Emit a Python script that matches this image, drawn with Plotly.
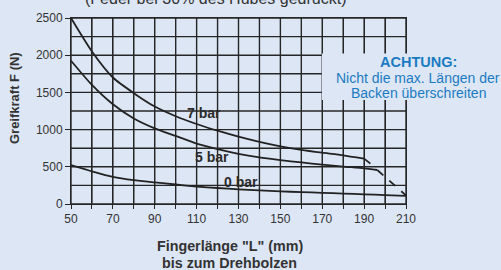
import plotly.graph_objects as go

# ---- data ----
x_vals = [50, 60, 70, 80, 90, 100, 110, 120, 130, 140, 150, 160, 170, 180, 190]
y_7bar = [2500, 2050, 1700, 1490, 1310, 1180, 1075, 985, 905, 835, 775, 728, 690, 655, 610]
x_7dash = [190, 193.1]
y_7dash = [610, 540]

x_5bar = [50, 60, 70, 80, 90, 100, 110, 120, 130, 140, 150, 160, 170, 180, 190, 196.3]
y_5bar = [1926, 1600, 1340, 1150, 1017, 915, 812, 738, 675, 627, 591, 558, 530, 503, 480, 457]
x_5dash = [196.3, 210]
y_5dash = [457, 115]

x_0bar = [50, 60, 70, 80, 90, 100, 110, 120, 130, 140, 150, 160, 170, 180, 190, 200, 210]
y_0bar = [524, 440, 365, 320, 290, 262, 235, 215, 197, 183, 170, 160, 150, 140, 130, 120, 110]

x_ticks = [50, 60, 70, 80, 90, 100, 110, 120, 130, 140, 150, 160, 170, 180, 190, 200, 210]
x_ticklabels = ["50", "", "70", "", "90", "", "110", "", "130", "", "150", "", "170", "", "190", "", "210"]
y_ticks = [0, 500, 1000, 1500, 2000, 2500]
y_grid = [0, 250, 500, 750, 1000, 1250, 1500, 1750, 2000, 2250, 2500]

series_labels = ["7 bar", "5 bar", "0 bar"]
label_x = [113.6, 117.4, 131.2]
label_y = [1223, 632, 296]

BG = "#dde6f5"
INK = "#222222"
BLUE = "#1b7bc2"
TXT = "#333333"
FONT = "Liberation Sans, Arial, sans-serif"
GRID = "#262626"

fig = go.Figure()

# grid drawn as individual line traces through the axes' own scales
x_lo, x_hi = x_ticks[0], x_ticks[-1]
y_lo, y_hi = y_grid[0], y_grid[-1]
for v in x_ticks:
    fig.add_trace(go.Scatter(x=[v, v], y=[y_lo, y_hi], mode="lines", hoverinfo="skip",
                             line=dict(color=GRID, width=1.4)))
for v in y_grid:
    fig.add_trace(go.Scatter(x=[x_lo, x_hi], y=[v, v], mode="lines", hoverinfo="skip",
                             line=dict(color=GRID, width=1.4)))

for xs, ys, dash, shape in [
    (x_vals, y_7bar, "solid", "spline"),
    (x_7dash, y_7dash, "8px,8px", "linear"),
    (x_5bar, y_5bar, "solid", "spline"),
    (x_5dash, y_5dash, "8px,8px", "linear"),
    (x_0bar, y_0bar, "solid", "spline"),
]:
    fig.add_trace(go.Scatter(x=xs, y=ys, mode="lines", hoverinfo="skip",
                             line=dict(color=INK, width=1.8, dash=dash, shape=shape, smoothing=0.6)))

fig.update_layout(
    xaxis=dict(
        range=[50, 210], tickmode="array", tickvals=x_ticks, ticktext=x_ticklabels,
        showgrid=True, gridcolor=GRID, gridwidth=1,
        ticks="outside", ticklen=4, tickcolor=GRID, tickwidth=1,
        showline=True, linecolor=GRID, linewidth=1, mirror=True,
        zeroline=False, tickfont=dict(family=FONT, size=12, color=TXT),
    ),
    yaxis=dict(
        range=[0, 2500], tickmode="array", tickvals=y_ticks,
        ticktext=[str(v) for v in y_ticks],
        showgrid=True, gridcolor=GRID, gridwidth=1,
        ticks="outside", ticklen=5, tickcolor=GRID, tickwidth=1,
        showline=True, linecolor=GRID, linewidth=1, mirror=True,
        zeroline=False, tickfont=dict(family=FONT, size=12, color=TXT),
    ),
)

# plain panel behind the warning text (hides the grid there)
shapes = [dict(type="rect", xref="paper", yref="paper", x0=0.749, x1=1.3, y0=0.559, y1=0.809,
               fillcolor=BG, line=dict(width=0), layer="above")]

ann = []
for t, lx, ly in zip(series_labels, label_x, label_y):
    ann.append(dict(x=lx, y=ly, xref="x", yref="y", text="<b>%s</b>" % t, showarrow=False,
                    xanchor="center", yanchor="middle",
                    font=dict(family=FONT, size=14, color="#2b2b2b")))


def txt(x, y, text, size, color, angle=0):
    return dict(x=x, y=y, xref="paper", yref="paper", text=text, showarrow=False,
                xanchor="center", yanchor="middle", textangle=angle,
                font=dict(family=FONT, size=size, color=color))


ann += [
    txt(0.43, 1.103, "(Feder bei 30% des Hubes gedrückt)", 16, TXT),
    txt(-0.167, 0.570, "<b>Greifkraft F (N)</b>", 13, TXT, -90),
    txt(0.475, -0.226, "<b>Fingerlänge \"L\" (mm)</b>", 14.3, TXT),
    txt(0.474, -0.317, "<b>bis zum Drehbolzen</b>", 14.3, TXT),
    txt(1.036, 0.763, "<b>ACHTUNG:</b>", 14.5, BLUE),
    txt(1.036, 0.677, "Nicht die max. Längen der", 14, BLUE),
    txt(1.036, 0.597, "Backen überschreiten", 14, BLUE),
    dict(x=213.3, y=575, xref="x", yref="y", ax=39, ay=-61, axref="pixel", ayref="pixel",
         text="", showarrow=True, arrowhead=2, arrowsize=2.4, arrowwidth=1.1, arrowcolor=BLUE,
         standoff=0, startstandoff=0),
]

fig.update_layout(
    width=501, height=270,
    margin=dict(l=71, r=95, t=18, b=66, autoexpand=False),
    paper_bgcolor=BG, plot_bgcolor=BG,
    showlegend=False,
    annotations=ann,
    shapes=shapes,
)

fig.write_html("out.html", config={"displayModeBar": False},
               post_script="document.body.style.margin='0px';")
